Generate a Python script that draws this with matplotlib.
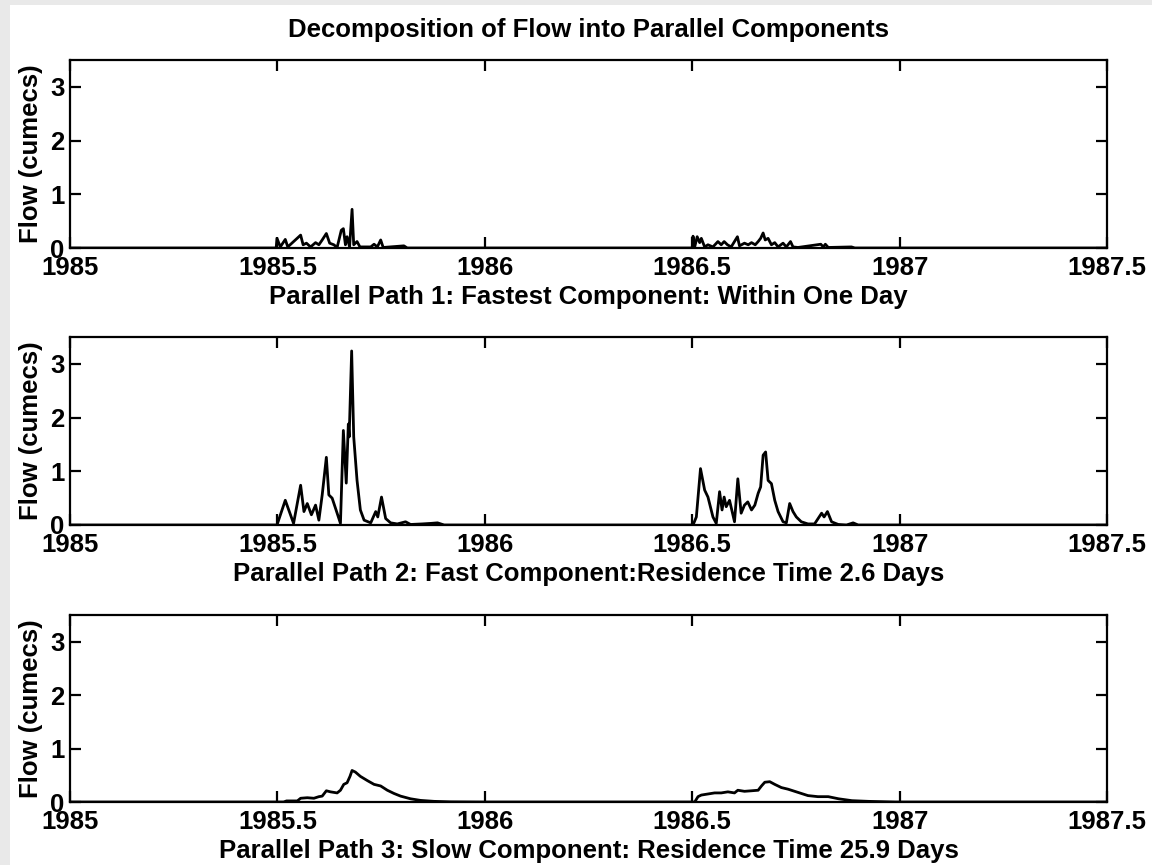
import matplotlib
matplotlib.use("Agg")
import matplotlib.pyplot as plt
from matplotlib.patches import Rectangle

# Parallel path 1: fastest component (within one day)
t_fastest = [1985.0, 1985.497, 1985.499, 1985.507, 1985.519, 1985.525, 1985.556, 1985.562, 1985.570,
             1985.580, 1985.592, 1985.600, 1985.608, 1985.618, 1985.626, 1985.636, 1985.644,
             1985.654, 1985.659, 1985.664, 1985.668, 1985.674, 1985.680, 1985.684, 1985.692,
             1985.699, 1985.725, 1985.733, 1985.741, 1985.749, 1985.755, 1985.805, 1985.813,
             1986.500, 1986.502, 1986.506, 1986.512, 1986.518, 1986.522, 1986.530, 1986.538, 1986.550,
             1986.562, 1986.570, 1986.577, 1986.585, 1986.594, 1986.609, 1986.614, 1986.626,
             1986.635, 1986.643, 1986.652, 1986.659, 1986.665, 1986.671, 1986.676, 1986.683,
             1986.691, 1986.699, 1986.707, 1986.719, 1986.727, 1986.737, 1986.743, 1986.755,
             1986.810, 1986.816, 1986.821, 1986.828, 1986.884, 1986.892, 1987.5]
q_fastest = [0.0, 0.0, 0.18, 0.02, 0.16, 0.02, 0.24, 0.06, 0.09,
             0.02, 0.10, 0.06, 0.15, 0.27, 0.09, 0.06, 0.01,
             0.33, 0.36, 0.06, 0.21, 0.02, 0.72, 0.06, 0.12,
             0.02, 0.02, 0.07, 0.02, 0.15, 0.01, 0.04, 0.0,
             0.0, 0.22, 0.02, 0.21, 0.10, 0.18, 0.02, 0.06, 0.02,
             0.12, 0.06, 0.12, 0.06, 0.02, 0.21, 0.04, 0.09,
             0.06, 0.10, 0.06, 0.12, 0.18, 0.28, 0.15, 0.18,
             0.06, 0.10, 0.02, 0.09, 0.02, 0.12, 0.02, 0.01,
             0.07, 0.02, 0.07, 0.01, 0.02, 0.0, 0.0]

# Parallel path 2: fast component (residence time 2.6 days)
t_fast = [1985.0, 1985.499, 1985.519, 1985.539, 1985.556, 1985.564, 1985.572, 1985.582,
          1985.592, 1985.600, 1985.608, 1985.618, 1985.624, 1985.632, 1985.644, 1985.652,
          1985.659, 1985.666, 1985.671, 1985.673, 1985.679, 1985.684, 1985.692, 1985.700,
          1985.709, 1985.725, 1985.737, 1985.742, 1985.751, 1985.761, 1985.773, 1985.789,
          1985.809, 1985.821, 1985.849, 1985.870, 1985.886, 1985.902,
          1986.502, 1986.510, 1986.520, 1986.530, 1986.538, 1986.550, 1986.558, 1986.566,
          1986.572, 1986.577, 1986.582, 1986.590, 1986.602, 1986.610, 1986.618, 1986.626,
          1986.634, 1986.643, 1986.651, 1986.659, 1986.665, 1986.671, 1986.677, 1986.683,
          1986.691, 1986.699, 1986.707, 1986.719, 1986.727, 1986.735, 1986.743, 1986.751,
          1986.763, 1986.779, 1986.795, 1986.812, 1986.818, 1986.826, 1986.836, 1986.852,
          1986.872, 1986.888, 1986.900, 1987.5]
q_fast = [0.0, 0.0, 0.46, 0.03, 0.74, 0.25, 0.40, 0.19,
          0.37, 0.09, 0.56, 1.26, 0.56, 0.50, 0.22, 0.03,
          1.76, 0.78, 1.88, 1.64, 3.24, 1.64, 0.83, 0.28,
          0.09, 0.04, 0.25, 0.15, 0.52, 0.12, 0.04, 0.02,
          0.06, 0.01, 0.02, 0.03, 0.04, 0.0,
          0.0, 0.15, 1.05, 0.65, 0.52, 0.15, 0.03, 0.62,
          0.28, 0.52, 0.34, 0.46, 0.06, 0.86, 0.22, 0.37,
          0.43, 0.28, 0.37, 0.59, 0.71, 1.30, 1.36, 0.83,
          0.77, 0.46, 0.25, 0.06, 0.04, 0.40, 0.25, 0.15,
          0.06, 0.02, 0.02, 0.22, 0.15, 0.25, 0.06, 0.01,
          0.0, 0.04, 0.0, 0.0]

# Parallel path 3: slow component (residence time 25.9 days)
t_slow = [1985.0, 1985.515, 1985.522, 1985.548, 1985.556, 1985.572, 1985.588, 1985.600,
          1985.608, 1985.618, 1985.628, 1985.644, 1985.652, 1985.660, 1985.668, 1985.675,
          1985.680, 1985.688, 1985.700, 1985.717, 1985.733, 1985.749, 1985.765, 1985.781,
          1985.797, 1985.821, 1985.845, 1985.878, 1985.918, 1985.998,
          1986.506, 1986.514, 1986.522, 1986.538, 1986.554, 1986.570, 1986.586, 1986.602,
          1986.610, 1986.626, 1986.643, 1986.659, 1986.667, 1986.675, 1986.687, 1986.699,
          1986.715, 1986.731, 1986.747, 1986.763, 1986.779, 1986.803, 1986.828, 1986.853,
          1986.885, 1986.925, 1986.990, 1987.5]
q_slow = [0.0, 0.0, 0.02, 0.02, 0.07, 0.08, 0.07, 0.10,
          0.11, 0.21, 0.19, 0.17, 0.22, 0.33, 0.36, 0.48,
          0.59, 0.56, 0.48, 0.40, 0.33, 0.30, 0.22, 0.16,
          0.11, 0.06, 0.03, 0.012, 0.003, 0.0,
          0.0, 0.10, 0.13, 0.15, 0.17, 0.17, 0.19, 0.17,
          0.22, 0.20, 0.21, 0.22, 0.30, 0.37, 0.38, 0.33,
          0.27, 0.24, 0.20, 0.16, 0.12, 0.10, 0.10, 0.06,
          0.025, 0.012, 0.0, 0.0]

subtitles = [
    "Parallel Path 1: Fastest Component: Within One Day",
    "Parallel Path 2: Fast Component:Residence Time 2.6 Days",
    "Parallel Path 3: Slow Component: Residence Time 25.9 Days",
]
x_ticks = [1985, 1985.5, 1986, 1986.5, 1987, 1987.5]
x_tick_labels = ["1985", "1985.5", "1986", "1986.5", "1987", "1987.5"]
y_ticks = [0, 1, 2, 3]

plt.rcParams["font.family"] = ["Liberation Sans", "DejaVu Sans"]
plt.rcParams["font.weight"] = "bold"
FS = 18.5

fig = plt.figure(figsize=(11.52, 8.65), dpi=100, facecolor="#e9e9e9")
# white page with a thin grey margin on top and left
fig.patches.append(Rectangle((10 / 1152, 0), 1, 1 - 5 / 865, transform=fig.transFigure,
                             facecolor="white", edgecolor="none", zorder=-10))

positions = [
    [70 / 1152, (865 - 248) / 865, 1037 / 1152, 188 / 865],
    [70 / 1152, (865 - 525) / 865, 1037 / 1152, 188 / 865],
    [70 / 1152, (865 - 802) / 865, 1037 / 1152, 187 / 865],
]
series = [(t_fastest, q_fastest), (t_fast, q_fast), (t_slow, q_slow)]

for pos, (t, q), sub in zip(positions, series, subtitles):
    ax = fig.add_axes(pos)
    ax.set_zorder(1)
    ax.plot(t, q, color="black", lw=2.0)
    ax.set_xlim(1985, 1987.5)
    ax.set_ylim(0, 3.5)
    ax.set_xticks(x_ticks)
    ax.set_xticklabels(x_tick_labels, fontsize=FS, fontweight="bold")
    ax.set_yticks(y_ticks)
    ax.set_yticklabels([str(v) for v in y_ticks], fontsize=FS, fontweight="bold")
    ax.tick_params(direction="in", length=8, width=1.6, top=True, right=True)
    ax.tick_params(axis="x", pad=6)
    ax.tick_params(axis="y", pad=4)
    for s in ax.spines.values():
        s.set_linewidth(1.6)
    ax.set_xlabel(sub, fontsize=FS, fontweight="bold", labelpad=3.5)
    ax.set_ylabel("Flow (cumecs)", fontsize=FS, fontweight="bold", labelpad=5)

fig.text(0.5105, 1 - 30 / 865, "Decomposition of Flow into Parallel Components",
         ha="center", va="center", fontsize=FS, fontweight="bold")

fig.savefig("out.png", dpi=100, facecolor=fig.get_facecolor())
